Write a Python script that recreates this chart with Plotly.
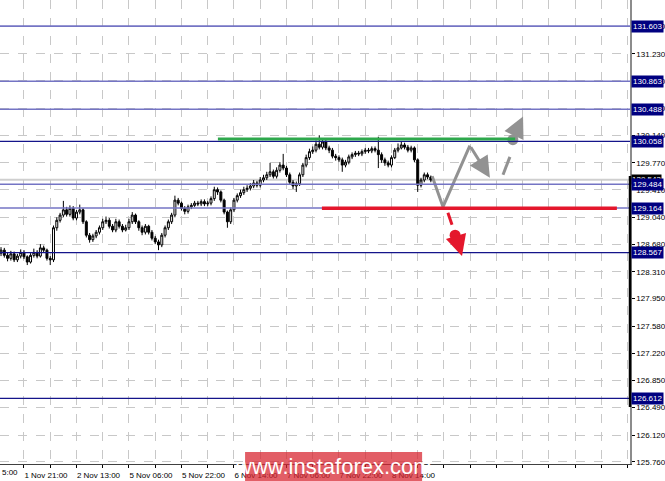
import plotly.graph_objects as go

# ---------------- data ----------------
close = [128.60, 128.53, 128.49, 128.55, 128.47, 128.52, 128.57, 128.51, 128.44, 128.53,
         128.57, 128.52, 128.63, 128.60, 128.49, 128.47, 128.90, 129.00, 129.07, 129.14,
         129.08, 129.16, 129.03, 129.11, 129.14, 128.98, 128.80, 128.74, 128.79, 128.84,
         128.90, 128.98, 129.00, 128.92, 128.87, 128.98, 128.92, 128.87, 128.90, 128.98,
         129.07, 128.98, 128.90, 128.84, 128.92, 128.84, 128.76, 128.71, 128.67, 128.80,
         128.90, 128.98, 129.07, 129.27, 129.23, 129.16, 129.12, 129.18, 129.20, 129.23,
         129.22, 129.25, 129.22, 129.23, 129.29, 129.41, 129.38, 129.27, 129.11, 128.98,
         129.14, 129.27, 129.33, 129.37, 129.41, 129.43, 129.46, 129.50, 129.47, 129.54,
         129.57, 129.61, 129.65, 129.59, 129.67, 129.74, 129.70, 129.61, 129.51, 129.46,
         129.49, 129.61, 129.74, 129.84, 129.92, 129.94, 130.02, 129.98, 130.05, 129.97,
         129.94, 129.86, 129.84, 129.81, 129.74, 129.78, 129.85, 129.88, 129.90, 129.89,
         129.92, 129.94, 129.93, 129.96, 129.94, 129.88, 129.81, 129.77, 129.74, 129.84,
         129.94, 129.97, 130.01, 129.98, 129.94, 129.97, 129.81, 129.47, 129.54, 129.61,
         129.58, 129.54]
high = [128.64, 128.63, 128.57, 128.59, 128.58, 128.55, 128.61, 128.60, 128.53, 128.56,
        128.62, 128.60, 128.68, 128.66, 128.62, 128.52, 128.93, 129.04, 129.10, 129.26,
        129.18, 129.20, 129.19, 129.14, 129.21, 129.16, 129.00, 128.83, 128.82, 128.87,
        128.93, 129.02, 129.05, 129.03, 128.95, 129.02, 129.01, 128.95, 128.94, 129.02,
        129.11, 129.09, 129.00, 128.93, 128.95, 128.94, 128.87, 128.79, 128.74, 128.83,
        128.93, 129.01, 129.10, 129.33, 129.30, 129.25, 129.19, 129.21, 129.23, 129.26,
        129.26, 129.28, 129.28, 129.26, 129.32, 129.45, 129.44, 129.40, 129.29, 129.13,
        129.17, 129.30, 129.36, 129.41, 129.45, 129.47, 129.50, 129.54, 129.53, 129.58,
        129.61, 129.65, 129.77, 129.68, 129.71, 129.78, 129.89, 129.73, 129.64, 129.54,
        129.52, 129.64, 129.77, 129.88, 129.96, 129.99, 130.07, 130.14, 130.10, 130.08,
        130.00, 129.97, 129.89, 129.87, 129.84, 129.81, 129.88, 129.91, 129.93, 129.93,
        129.95, 129.97, 129.97, 129.99, 129.99, 130.12, 129.91, 129.84, 129.80, 129.87,
        129.97, 130.03, 130.05, 130.04, 130.01, 130.00, 129.99, 129.83, 129.57, 129.64,
        129.64, 129.60]
low = [128.52, 128.50, 128.45, 128.46, 128.44, 128.44, 128.49, 128.48, 128.40, 128.42,
       128.50, 128.49, 128.50, 128.57, 128.46, 128.40, 128.44, 128.86, 128.97, 129.04,
       129.05, 129.05, 129.00, 129.00, 129.08, 128.95, 128.77, 128.70, 128.71, 128.76,
       128.81, 128.87, 128.95, 128.89, 128.84, 128.84, 128.89, 128.84, 128.85, 128.87,
       128.95, 128.95, 128.86, 128.80, 128.81, 128.81, 128.73, 128.68, 128.60, 128.64,
       128.77, 128.87, 128.95, 129.04, 129.20, 129.13, 129.08, 129.09, 129.15, 129.18,
       129.19, 129.19, 129.19, 129.19, 129.20, 129.26, 129.34, 129.24, 129.08, 128.90,
       128.95, 129.11, 129.24, 129.30, 129.34, 129.38, 129.40, 129.43, 129.44, 129.44,
       129.51, 129.54, 129.58, 129.56, 129.56, 129.64, 129.67, 129.58, 129.48, 129.42,
       129.38, 129.46, 129.58, 129.71, 129.81, 129.89, 129.91, 129.95, 129.95, 129.94,
       129.90, 129.83, 129.80, 129.78, 129.65, 129.71, 129.75, 129.82, 129.85, 129.86,
       129.86, 129.89, 129.90, 129.90, 129.91, 129.70, 129.77, 129.73, 129.71, 129.71,
       129.82, 129.91, 129.95, 129.95, 129.91, 129.91, 129.78, 129.38, 129.44, 129.51,
       129.55, 129.51]
first_open = 128.56
opens = [first_open] + close[:-1]
bars = list(range(len(close)))

time_tick_bars = [7, 23, 39, 55, 71, 87, 103, 119]
time_tick_labels = ["1 Nov 21:00", "2 Nov 13:00", "5 Nov 06:00", "5 Nov 22:00",
                    "6 Nov 14:00", "7 Nov 06:00", "7 Nov 22:00", "8 Nov 14:00"]

price_ticks = [125.760, 126.120, 126.490, 126.850, 127.220, 127.580, 127.950, 128.310,
               128.680, 129.040, 129.410, 129.770, 130.140, 130.500, 130.870, 131.230, 131.600]

light_levels = [131.603, 130.863, 130.488, 129.484, 129.164]
dark_levels = [130.058, 128.567, 126.612]
bid_price = 129.543

resistance_bars = [66.1, 156.7]
resistance_price = 130.09
support_bars = [97.8, 187.7]
support_price = 129.16

gray_path_x = [131.4, 134.7, 142.9]
gray_path_y = [129.59, 129.18, 130.00]
gray_head = (149.0, 129.57)
gray_dash_x = [153.0, 155.1]
gray_dash_y = [129.61, 129.85]
gray_dot = (156.0, 130.08)
gray_up_tail = (156.4, 130.14)
gray_up_head = (159.1, 130.39)

red_dash_x = [136.2, 137.45]
red_dash_y = [129.10, 128.94]
red_dot = (138.4, 128.80)
red_down_tail = (139.0, 128.74)
red_down_head = (140.5, 128.52)

# ---------------- figure ----------------
FONT = "Liberation Sans, Arial, sans-serif"
GRAY = "#929292"
RED = "#e4172c"
GREEN = "#2ea84c"

fig = go.Figure()

fig.add_trace(go.Candlestick(
    x=bars, open=opens, high=high, low=low, close=close,
    increasing=dict(line=dict(color="#000000", width=1), fillcolor="#ffffff"),
    decreasing=dict(line=dict(color="#000000", width=1), fillcolor="#000000"),
    whiskerwidth=0, hoverinfo="skip", showlegend=False,
))

# forecast paths
fig.add_trace(go.Scatter(x=gray_path_x, y=gray_path_y, mode="lines",
                         line=dict(color=GRAY, width=3), hoverinfo="skip", showlegend=False))
fig.add_trace(go.Scatter(x=gray_dash_x, y=gray_dash_y, mode="lines",
                         line=dict(color=GRAY, width=3), hoverinfo="skip", showlegend=False))
fig.add_trace(go.Scatter(x=[gray_dot[0]], y=[gray_dot[1]], mode="markers",
                         marker=dict(color=GRAY, size=11), hoverinfo="skip", showlegend=False))
fig.add_trace(go.Scatter(x=red_dash_x, y=red_dash_y, mode="lines",
                         line=dict(color=RED, width=3), hoverinfo="skip", showlegend=False))
fig.add_trace(go.Scatter(x=[red_dot[0]], y=[red_dot[1]], mode="markers",
                         marker=dict(color=RED, size=11), hoverinfo="skip", showlegend=False))

shapes = []
# bid line
shapes.append(dict(type="line", xref="paper", x0=0, x1=1, yref="y", y0=bid_price, y1=bid_price,
                   line=dict(color="#cfcfcf", width=2), layer="below"))
for lv in light_levels:
    shapes.append(dict(type="line", xref="paper", x0=0, x1=1, yref="y", y0=lv, y1=lv,
                       line=dict(color="#7474c4", width=1.6)))
for lv in dark_levels:
    shapes.append(dict(type="line", xref="paper", x0=0, x1=1, yref="y", y0=lv, y1=lv,
                       line=dict(color="#14148a", width=1.2)))
shapes.append(dict(type="line", xref="x", x0=resistance_bars[0], x1=resistance_bars[1],
                   yref="y", y0=resistance_price, y1=resistance_price,
                   line=dict(color=GREEN, width=3)))
shapes.append(dict(type="line", xref="x", x0=support_bars[0], x1=support_bars[1],
                   yref="y", y0=support_price, y1=support_price,
                   line=dict(color=RED, width=3.5)))
# dark segment of price scale
shapes.append(dict(type="line", xref="paper", x0=1, x1=1, yref="y", y0=126.497, y1=129.594,
                   line=dict(color="#000000", width=2.5)))
# watermark box
shapes.append(dict(type="rect", xref="paper", yref="paper", x0=0.389, x1=0.670,
                   y0=-0.0366, y1=0.0259, fillcolor="rgba(216,38,48,0.74)",
                   line=dict(width=0), layer="above"))

annotations = []
# arrows
for tail, head, col in [((gray_path_x[-1], gray_path_y[-1]), gray_head, GRAY),
                        (gray_up_tail, gray_up_head, GRAY),
                        (red_down_tail, red_down_head, RED)]:
    annotations.append(dict(x=head[0], y=head[1], ax=tail[0], ay=tail[1],
                            xref="x", yref="y", axref="x", ayref="y", text="",
                            showarrow=True, arrowhead=2, arrowsize=1.4, arrowwidth=3,
                            arrowcolor=col))

# bid label
annotations.append(dict(x=1, xref="paper", y=bid_price, yref="y", xanchor="left",
                        yanchor="middle", xshift=1, text=f"{bid_price:.3f}", showarrow=False,
                        bgcolor="#000000", font=dict(color="#ffffff", size=8, family=FONT),
                        borderpad=0))
for lv in light_levels + dark_levels:
    annotations.append(dict(x=1, xref="paper", y=lv, yref="y", xanchor="left",
                            yanchor="middle", xshift=1, text=f"{lv:.3f}", showarrow=False,
                            bgcolor="#000080", font=dict(color="#ffffff", size=8, family=FONT),
                            borderpad=1))
# clipped label fragment at left edge
annotations.append(dict(x=0, xref="paper", y=-0.0175, yref="paper", xanchor="left",
                        yanchor="middle", text="5:00", showarrow=False,
                        font=dict(color="#000000", size=8, family=FONT)))
# watermark text
annotations.append(dict(x=0.529, xref="paper", y=-0.0055, yref="paper", xanchor="center",
                        yanchor="middle", text="www.instaforex.com", showarrow=False,
                        font=dict(color="#ffffff", size=22, family=FONT)))

grid_vals = list(range(7, 192, 8))
grid_text = []
for v in grid_vals:
    grid_text.append(time_tick_labels[time_tick_bars.index(v)] if v in time_tick_bars else "")

fig.update_layout(
    width=665, height=481,
    margin=dict(l=0, r=35, t=0, b=17),
    paper_bgcolor="#ffffff", plot_bgcolor="#ffffff",
    showlegend=False, boxgap=0.15,
    shapes=shapes, annotations=annotations,
    font=dict(family=FONT, size=8, color="#000000"),
    xaxis=dict(
        range=[-0.31, 191.7], rangeslider=dict(visible=False),
        tickmode="array", tickvals=grid_vals, ticktext=grid_text,
        ticklabelshift=22, ticks="outside", ticklen=3, tickcolor="#000000",
        showgrid=True, gridcolor="#c8c8c8", griddash="dash", gridwidth=1,
        showline=True, linecolor="#404040", linewidth=1, zeroline=False,
        tickfont=dict(size=8, family=FONT, color="#000000"),
    ),
    yaxis=dict(
        range=[125.733, 131.953], side="right",
        tickmode="array", tickvals=price_ticks, ticktext=[f"{v:.3f}" for v in price_ticks],
        ticks="outside", ticklen=3, tickcolor="#000000",
        showgrid=True, gridcolor="#c8c8c8", griddash="dash", gridwidth=1,
        showline=True, linecolor="#8c8c8c", linewidth=1.5, zeroline=False,
        tickfont=dict(size=8, family=FONT, color="#000000"),
    ),
)

fig.write_html("out.html", config={"displayModeBar": False},
               post_script="document.body.style.margin='0';document.body.style.padding='0';")
